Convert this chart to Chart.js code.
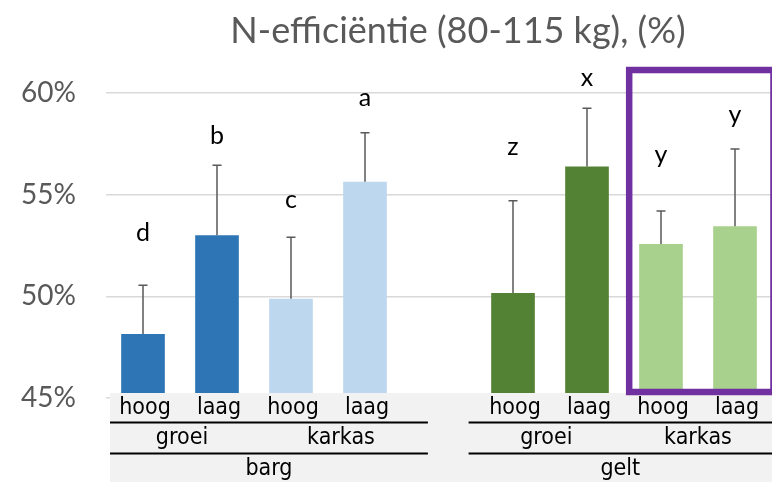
<!DOCTYPE html>
<html lang="nl">
<head>
    <meta charset="UTF-8">
    <title>N-efficiëntie (80-115 kg), (%)</title>
    <script src="https://cdn.jsdelivr.net/npm/chart.js"></script>
    <style>
        body {
            margin: 0;
            background-color: #fff;
        }
    </style>
</head>
<body>
    <canvas id="myChart" width="772" height="482"></canvas>

    <script>
        // Categories: three label levels, empty slot between barg and gelt
        const voerLabels  = ['hoog', 'laag', 'hoog', 'laag', '', 'hoog', 'laag', 'hoog', 'laag'];
        const faseLabels  = ['groei', 'groei', 'karkas', 'karkas', '', 'groei', 'groei', 'karkas', 'karkas'];
        const soortLabels = ['barg', 'barg', 'barg', 'barg', '', 'gelt', 'gelt', 'gelt', 'gelt'];

        // N-efficiency (%) and upper error
        const efficiency = [48.15, 53.0, 49.88, 55.64, null, 50.16, 56.38, 52.57, 53.45];
        const errorUp    = [2.4, 3.45, 3.03, 2.41, null, 4.54, 2.87, 1.63, 3.8];

        // significance letters and the height (%) they sit at
        const letters      = ['d', 'b', 'c', 'a', '', 'z', 'x', 'y', 'y'];
        const letterHeight = [53.14, 57.89, 54.74, 59.77, null, 57.33, 60.72, 56.95, 58.92];

        const yTicks = [45, 50, 55, 60];

        const barColors = ['#2e75b6', '#2e75b6', '#bdd7ee', '#bdd7ee', '#ffffff',
                           '#548235', '#548235', '#a9d18e', '#a9d18e'];

        const textGrey = '#595959';

        // error bars + letters above the bars
        const annotations = {
            id: 'annotations',
            afterDatasetsDraw(chart) {
                let ctx = chart.ctx;
                let x = chart.scales.x, y = chart.scales.y;
                ctx.save();
                ctx.strokeStyle = textGrey;
                ctx.lineWidth = 1.5;
                efficiency.forEach((v, i) => {
                    if (v === null) return;
                    let px = x.getPixelForValue(i);
                    let y0 = y.getPixelForValue(v);
                    let y1 = y.getPixelForValue(v + errorUp[i]);
                    ctx.beginPath();
                    ctx.moveTo(px, y0);
                    ctx.lineTo(px, y1);
                    ctx.moveTo(px - 4.5, y1);
                    ctx.lineTo(px + 4.5, y1);
                    ctx.stroke();
                });
                ctx.fillStyle = '#000';
                ctx.font = '25px Lato, sans-serif';
                ctx.textAlign = 'center';
                ctx.textBaseline = 'middle';
                letters.forEach((t, i) => {
                    if (!t) return;
                    ctx.fillText(t, x.getPixelForValue(i), y.getPixelForValue(letterHeight[i]));
                });
                ctx.restore();
            }
        };

        // multi-level category axis, drawn under the plot
        const categoryAxis = {
            id: 'categoryAxis',
            afterDraw(chart) {
                let ctx = chart.ctx;
                let x = chart.scales.x;
                let area = chart.chartArea;
                let catW = x.getPixelForValue(1) - x.getPixelForValue(0);
                let bottom = area.bottom;

                ctx.save();
                ctx.fillStyle = '#f2f2f2';
                ctx.fillRect(area.left + 4, bottom - 5, chart.width - area.left - 4, chart.height - bottom + 5);

                // span of a run of equal labels, in pixels
                function runs(labels) {
                    let out = [];
                    let i = 0;
                    while (i < labels.length) {
                        if (!labels[i]) { i++; continue; }
                        let j = i;
                        while (j + 1 < labels.length && labels[j + 1] === labels[i] &&
                               soortLabels[j + 1] === soortLabels[i]) j++;
                        let left = i - 0.5, right = j + 0.5;
                        if (i > 0 && !labels[i - 1]) left -= 0.1;
                        if (j < labels.length - 1 && !labels[j + 1]) right += 0.35;
                        let lp = Math.max(x.getPixelForValue(0) + left * catW, area.left + 4);
                        let rp = Math.min(x.getPixelForValue(0) + right * catW, chart.width);
                        out.push({ text: labels[i], left: lp, right: rp });
                        i = j + 1;
                    }
                    return out;
                }

                ctx.fillStyle = '#000';
                ctx.font = '23px "DejaVu Sans Condensed", "Liberation Sans Narrow", sans-serif';
                ctx.textAlign = 'center';
                ctx.textBaseline = 'middle';
                voerLabels.forEach((t, i) => {
                    if (t) ctx.fillText(t, x.getPixelForValue(i) + 2, bottom + 10);
                });
                runs(faseLabels).forEach(r => ctx.fillText(r.text, (r.left + r.right) / 2, bottom + 40));
                let groups = runs(soortLabels);
                groups.forEach(r => ctx.fillText(r.text, (r.left + r.right) / 2, bottom + 71));

                ctx.strokeStyle = '#000';
                ctx.lineWidth = 2;
                groups.forEach(r => {
                    [bottom + 24.5, bottom + 55.5].forEach(ly => {
                        ctx.beginPath();
                        ctx.moveTo(r.left, ly);
                        ctx.lineTo(r.right, ly);
                        ctx.stroke();
                    });
                });

                // highlight box around gelt karkas
                let y = chart.scales.y;
                let bl = x.getPixelForValue(7) - 0.43 * catW;
                let br = x.getPixelForValue(8) + 0.52 * catW;
                let bt = y.getPixelForValue(61.13);
                let bb = bottom - 6;
                ctx.strokeStyle = '#7030a0';
                ctx.lineWidth = 6.5;
                ctx.strokeRect(bl, bt, br - bl, bb - bt);

                // title
                ctx.fillStyle = textGrey;
                ctx.font = '36px Lato, sans-serif';
                ctx.fillText('N-efficiëntie (80-115 kg), (%)', 458, 31);
                ctx.restore();
            }
        };

        let ctx = document.getElementById('myChart').getContext('2d');
        let chart = new Chart(ctx, {
            type: 'bar',
            data: {
                labels: voerLabels,
                datasets: [{
                    label: 'N-efficiëntie',
                    data: efficiency,
                    backgroundColor: barColors,
                    borderWidth: 0,
                    barPercentage: 0.59,
                    categoryPercentage: 1.0
                }]
            },
            options: {
                responsive: false,
                animation: false,
                layout: {
                    padding: { top: 93, bottom: 84, left: 0, right: 0 }
                },
                plugins: {
                    legend: { display: false },
                    tooltip: { enabled: false }
                },
                scales: {
                    x: {
                        display: false
                    },
                    y: {
                        min: 45,
                        max: 60,
                        afterFit(scale) { scale.width = 106; },
                        afterBuildTicks(scale) { scale.ticks = yTicks.map(v => ({ value: v })); },
                        border: { display: false },
                        grid: { color: '#d9d9d9', lineWidth: 1.5, drawTicks: false },
                        ticks: {
                            color: textGrey,
                            font: { family: 'Lato, sans-serif', size: 28 },
                            padding: 30,
                            callback: function(value) { return value + '%'; }
                        }
                    }
                }
            },
            plugins: [annotations, categoryAxis]
        });
    </script>
</body>
</html>
